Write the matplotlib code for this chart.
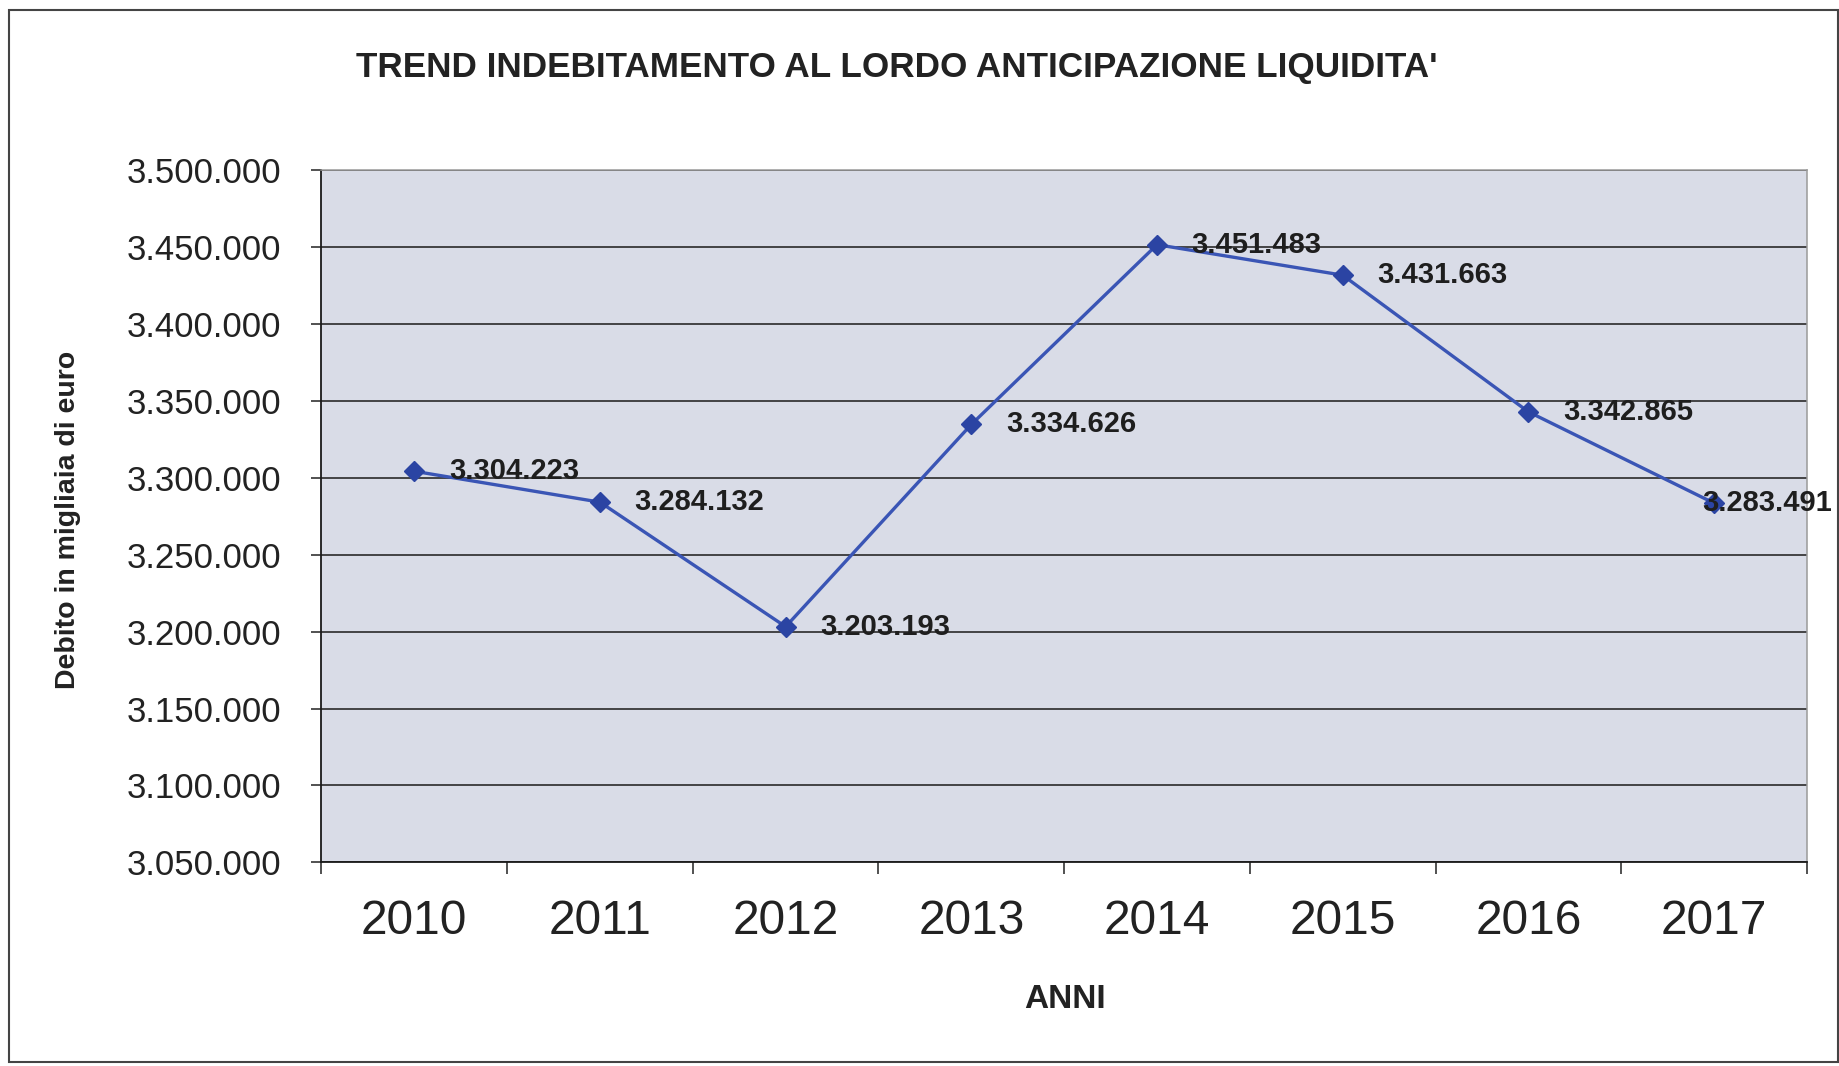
import matplotlib
matplotlib.use("Agg")
import matplotlib.pyplot as plt
from matplotlib.patches import Rectangle
from matplotlib.ticker import FuncFormatter, MultipleLocator

plt.rcParams["font.family"] = ["Liberation Sans", "DejaVu Sans"]

# data
anni = ["2010", "2011", "2012", "2013", "2014", "2015", "2016", "2017"]
debito = [3304223, 3284132, 3203193, 3334626, 3451483, 3431663, 3342865, 3283491]

fig = plt.figure(figsize=(18.4, 10.66), dpi=100)
ax = fig.add_axes([0.1747, 0.191, 0.8073, 0.6495])
ax.set_facecolor("#d9dce7")

x = list(range(len(anni)))
ax.plot(x, debito, color="#3a55b5", lw=2.4, marker="D", markersize=10,
        markerfacecolor="#2b44a3", markeredgecolor="#2b44a3", zorder=3)

# etichette dati (a destra del punto, spostate se escono dal grafico)
labels = []
for xi, v in zip(x, debito):
    t = ax.annotate(f"{v:,.0f}".replace(",", "."), (xi, v), xytext=(25, 0),
                    textcoords="offset points", ha="left", va="center",
                    fontsize=21, fontweight="bold", color="#1e1e1e", zorder=4)
    labels.append(t)

ax.set_xlim(-0.5, len(anni) - 0.5)
ax.set_ylim(3050000, 3500000)
ax.yaxis.set_major_locator(MultipleLocator(50000))
ax.yaxis.set_major_formatter(FuncFormatter(lambda v, p: f"{v:,.0f}".replace(",", ".")))
ax.grid(axis="y", color="#2a2a2a", lw=1.2)
ax.set_axisbelow(True)

ax.set_xticks(x)
ax.set_xticklabels(anni)
ax.set_xticks([i - 0.5 for i in range(len(anni) + 1)], minor=True)
ax.tick_params(axis="x", which="major", length=0, pad=26, labelsize=34.5, labelcolor="#222222")
ax.tick_params(axis="x", which="minor", length=8.6, width=1.1, direction="out", color="#222222")
ax.tick_params(axis="y", length=7, width=1.1, pad=22, labelsize=25, labelcolor="#222222", color="#222222")

for s in ["left", "bottom"]:
    ax.spines[s].set_color("#1a1a1a")
    ax.spines[s].set_linewidth(1.3)
for s in ["top", "right"]:
    ax.spines[s].set_color("#9a9a9a")
    ax.spines[s].set_linewidth(1.1)

fig.text(0.4875, 0.937, "TREND INDEBITAMENTO AL LORDO ANTICIPAZIONE LIQUIDITA'",
         ha="center", va="center", fontsize=25.3, fontweight="bold", color="#222222")
fig.text(0.037, 0.512, "Debito in migliaia di euro", rotation=90,
         ha="center", va="center", fontsize=20.5, fontweight="bold", color="#222222")
fig.text(0.579, 0.062, "ANNI", ha="center", va="center",
         fontsize=24, fontweight="bold", color="#222222")

# cornice esterna
fig.patches.append(Rectangle((0.005, 0.004), 0.994, 0.987, transform=fig.transFigure,
                             fill=False, edgecolor="#444444", lw=1.5))

# clamp labels inside the figure like Excel does
fig.canvas.draw()
r = fig.canvas.get_renderer()
limit = fig.bbox.width - 8
for t in labels:
    bb = t.get_window_extent(r)
    if bb.x1 > limit:
        shift = (bb.x1 - limit) * 72 / fig.dpi
        ox, oy = t.xyann
        t.xyann = (ox - shift, oy)

fig.savefig("out.png", dpi=100)
